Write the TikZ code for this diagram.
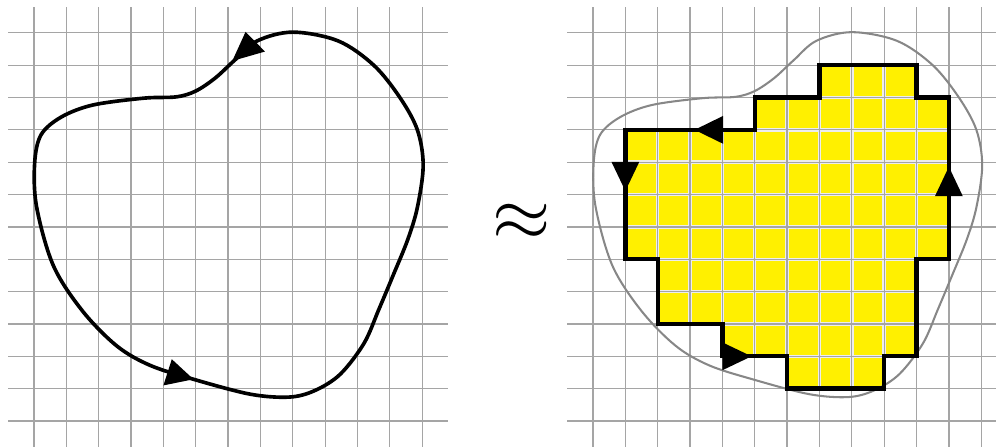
\documentclass[tikz,border=0pt]{standalone}
\definecolor{cellyellow}{RGB}{255,240,0}
\definecolor{gridgray}{RGB}{165,165,165}
\definecolor{ghostgray}{RGB}{135,135,135}
\tikzset{
  gridline/.style={draw=gridgray, line width=1.1pt},
  cellgap/.style={draw=white!80!gridgray, line width=3.0pt},
  blobline/.style={draw=black, line width=3.2pt, line join=round},
  ghostline/.style={draw=ghostgray, line width=1.8pt, line join=round},
  stairline/.style={draw=black, line width=3.8pt, line join=miter},
  arrowtri/.style={fill=black},
}
\begin{document}
\begin{tikzpicture}
\useasboundingbox (-1.051,-0.773) rectangle (29.737,13.014);

% yellow region (right)
\begin{scope}[xshift=17.28cm]
  \fill[cellyellow] (7,11) -- (10,11) -- (10,10) -- (11,10) -- (11,5) -- (10,5) -- (10,2) -- (9,2) -- (9,1) -- (6,1) -- (6,2) -- (4,2) -- (4,3) -- (2,3) -- (2,5) -- (1,5) -- (1,9) -- (5,9) -- (5,10) -- (7,10) -- cycle;
  \begin{scope}
    \clip (7,11) -- (10,11) -- (10,10) -- (11,10) -- (11,5) -- (10,5) -- (10,2) -- (9,2) -- (9,1) -- (6,1) -- (6,2) -- (4,2) -- (4,3) -- (2,3) -- (2,5) -- (1,5) -- (1,9) -- (5,9) -- (5,10) -- (7,10) -- cycle;
    \foreach \i in {0,...,12} {
      \draw[cellgap] (\i,-0.8) -- (\i,12.8);
      \draw[cellgap] (-0.8,\i) -- (12.8,\i);
    }
  \end{scope}
\end{scope}

% grids
\foreach \dx in {0,17.28} {
  \foreach \i in {0,...,12} {
    \draw[gridline, xshift=\dx cm] (\i,-0.8) -- (\i,12.8);
    \draw[gridline, xshift=\dx cm] (-0.8,\i) -- (12.8,\i);
  }
}

% curves
\foreach \dx/\st in {0/blobline,17.28/ghostline} {
  \draw[\st, xshift=\dx cm] plot[smooth cycle, tension=0.55] coordinates {
    (8,12.02) (9.4,11.75) (10.5,11.0) (11.31,10) (11.85,9) (12.03,7.9)
    (11.85,6.6) (11.55,5.6) (11.1,4.5) (10.66,3.45) (10.2,2.4) (9.47,1.45)
    (8.7,0.95) (7.9,0.74) (6.68,0.83) (4.93,1.29) (3.59,1.72) (2.56,2.32) (1.5,3.4)
    (0.6,4.8) (0.08,6.62) (0.02,7.97) (0.22,8.85) (0.85,9.4) (1.83,9.77)
    (3.4,9.98) (4.4,10.02) (5.0,10.2) (5.6,10.6) (6.2,11.15) (6.9,11.75)
  };
}

% left arrowheads
\fill[arrowtri] (6.13,11.13) -- (6.54,12.03) -- (7.14,11.42) -- cycle;
\fill[arrowtri] (4.93,1.29) -- (4.26,1.91) -- (4.0,1.10) -- cycle;

% approx sign
\node (approx) at (15.08,6.15) [scale=6.6, inner sep=0pt] {$\approx$};

% staircase outline and arrowheads
\begin{scope}[xshift=17.28cm]
  \draw[stairline] (7,11) -- (10,11) -- (10,10) -- (11,10) -- (11,5) -- (10,5) -- (10,2) -- (9,2) -- (9,1) -- (6,1) -- (6,2) -- (4,2) -- (4,3) -- (2,3) -- (2,5) -- (1,5) -- (1,9) -- (5,9) -- (5,10) -- (7,10) -- cycle;
  \fill[arrowtri] (3.14,9) -- (4.02,9.43) -- (4.02,8.57) -- cycle;
  \fill[arrowtri] (1,7.11) -- (0.57,8.01) -- (1.43,8.01) -- cycle;
  \fill[arrowtri] (11,7.86) -- (10.57,6.95) -- (11.43,6.95) -- cycle;
  \fill[arrowtri] (4.9,2) -- (4,2.43) -- (4,1.57) -- cycle;
\end{scope}
\end{tikzpicture}
\end{document}
